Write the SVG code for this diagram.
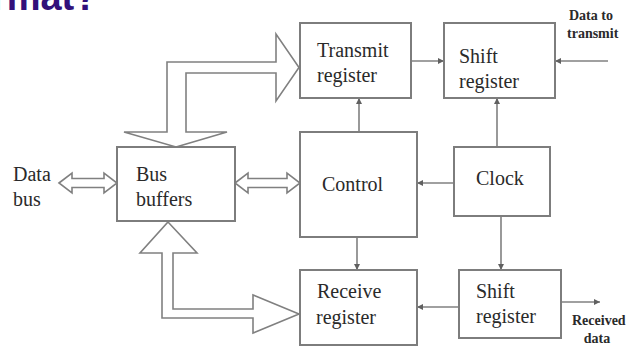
<svg xmlns="http://www.w3.org/2000/svg" width="630" height="347" viewBox="0 0 630 347">
<style>
.box{fill:#fff;stroke:#7d7d7d;stroke-width:2}
.lbl{font-family:"Liberation Serif","Times New Roman",serif;font-size:20px;fill:#2a2a2a}
.sm{font-family:"Liberation Serif","Times New Roman",serif;font-size:14px;font-weight:bold;fill:#2a2a2a}
.wire{stroke:#808080;stroke-width:1.6;fill:none}
.hollow{fill:#fff;stroke:#808080;stroke-width:1.6;stroke-linejoin:miter}
.title{font-family:"Liberation Sans",Arial,sans-serif;font-size:38px;font-weight:bold;fill:#32107a}
</style>
<defs>
<marker id="ah" viewBox="0 0 10 10" refX="10" refY="5" markerWidth="6" markerHeight="6" markerUnits="userSpaceOnUse" orient="auto">
<path d="M0,0 L10,5 L0,10 z" fill="#606060"/>
</marker>
</defs>
<rect width="630" height="347" fill="#fff"/>
<text class="title" x="-44" y="10">format?</text>

<g id="connectors">
<line class="wire" x1="411" y1="61" x2="444" y2="61" marker-end="url(#ah)"/>
<line class="wire" x1="608" y1="61" x2="555" y2="61" marker-end="url(#ah)"/>
<line class="wire" x1="359" y1="132" x2="359" y2="98" marker-end="url(#ah)"/>
<line class="wire" x1="497" y1="147" x2="497" y2="98" marker-end="url(#ah)"/>
<line class="wire" x1="454" y1="183" x2="417" y2="183" marker-end="url(#ah)"/>
<line class="wire" x1="501" y1="216" x2="501" y2="270" marker-end="url(#ah)"/>
<line class="wire" x1="357" y1="237" x2="357" y2="270" marker-end="url(#ah)"/>
<line class="wire" x1="459" y1="307" x2="417" y2="307" marker-end="url(#ah)"/>
<line class="wire" x1="561" y1="302" x2="600" y2="302" marker-end="url(#ah)"/>
<polygon class="hollow" points="176,147 227,132 186,132 186,73 276,73 276,101 299,67.5 276,34 276,62 167,62 167,132 124,132"/>
<polygon class="hollow" points="168,222 197,253 173,253 173,309 253,309 253,295 299,314 253,333 253,318 162,318 162,253 140,253"/>
<polygon class="hollow" points="59,183 72,173 72,178.5 104,178.5 104,173 117,183 104,193 104,187.5 72,187.5 72,193"/>
<polygon class="hollow" points="235,183 248,173 248,178.5 287,178.5 287,173 300,183 287,193 287,187.5 248,187.5 248,193"/>
</g>

<g id="transmit-register">
<rect class="box" x="300" y="23" width="111" height="75"/>
<text class="lbl" x="317" y="57">Transmit</text>
<text class="lbl" x="317" y="82">register</text>
</g>
<g id="shift-register-tx">
<rect class="box" x="444" y="23" width="111" height="75"/>
<text class="lbl" x="459" y="63">Shift</text>
<text class="lbl" x="459" y="88">register</text>
</g>
<g id="data-to-transmit">
<text class="sm" x="569" y="20">Data to</text>
<text class="sm" x="567" y="38">transmit</text>
</g>
<g id="control">
<rect class="box" x="300" y="132" width="117" height="105"/>
<text class="lbl" x="322" y="191">Control</text>
</g>
<g id="clock">
<rect class="box" x="454" y="147" width="96" height="69"/>
<text class="lbl" x="476" y="185">Clock</text>
</g>
<g id="bus-buffers">
<rect class="box" x="117" y="147" width="118" height="74"/>
<text class="lbl" x="136" y="181">Bus</text>
<text class="lbl" x="136" y="206">buffers</text>
</g>
<g id="data-bus">
<text class="lbl" x="13" y="181">Data</text>
<text class="lbl" x="13" y="206">bus</text>
</g>
<g id="receive-register">
<rect class="box" x="300" y="270" width="117" height="75"/>
<text class="lbl" x="317" y="298">Receive</text>
<text class="lbl" x="316" y="324">register</text>
</g>
<g id="shift-register-rx">
<rect class="box" x="459" y="270" width="102" height="68"/>
<text class="lbl" x="476" y="298">Shift</text>
<text class="lbl" x="476" y="323">register</text>
</g>
<g id="received-data">
<text class="sm" x="572" y="325">Received</text>
<text class="sm" x="597" y="343" text-anchor="middle">data</text>
</g>
</svg>
